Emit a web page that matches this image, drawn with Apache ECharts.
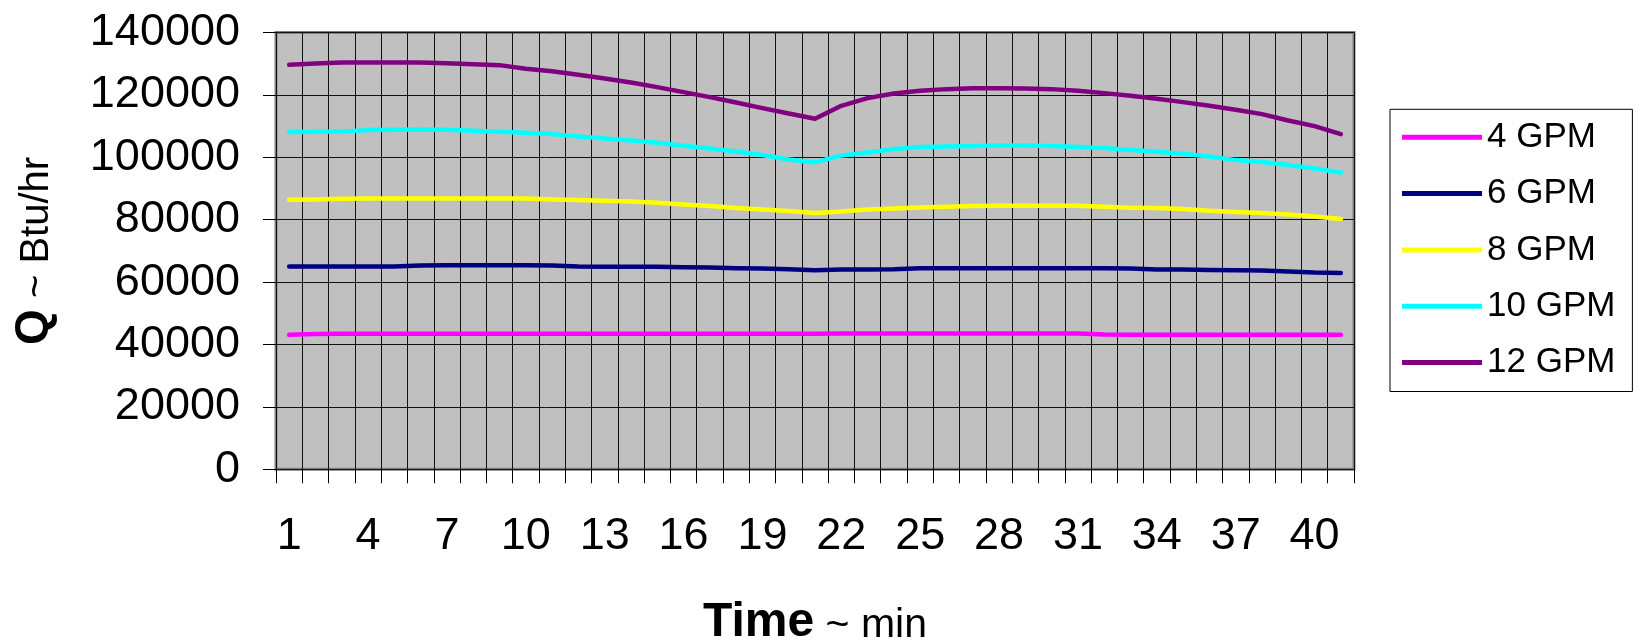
<!DOCTYPE html>
<html>
<head>
<meta charset="utf-8">
<script src="https://cdn.jsdelivr.net/npm/echarts@6/dist/echarts.min.js"></script>
<style>
html,body{margin:0;padding:0;background:#fff;}
#c{width:1637px;height:642px;}
</style>
</head>
<body>
<div id="c"></div>
<script>
const categories = ['1','2','3','4','5','6','7','8','9','10','11','12','13','14','15','16','17','18','19','20','21','22','23','24','25','26','27','28','29','30','31','32','33','34','35','36','37','38','39','40','41'];
const seriesNames = ['4 GPM','6 GPM','8 GPM','10 GPM','12 GPM'];
const gpm4 = [43100,43400,43450,43450,43450,43450,43450,43450,43450,43450,43450,43450,43450,43450,43450,43450,43450,43450,43450,43450,43450,43500,43500,43500,43500,43500,43500,43500,43500,43500,43500,43200,43100,43100,43100,43100,43100,43100,43100,43100,43100];
const gpm6 = [64990,64990,64990,64990,64990,65310,65420,65420,65420,65420,65310,64990,64880,64880,64880,64770,64660,64450,64340,64130,63810,64020,64020,64130,64450,64450,64450,64450,64450,64450,64450,64450,64340,64020,64020,63910,63810,63700,63380,63060,62950];
const gpm8 = [86400,86500,86720,86820,86820,86820,86820,86820,86820,86820,86500,86290,86070,85860,85430,84900,84370,83730,83300,82770,82130,82660,83300,83620,83940,84160,84370,84470,84470,84470,84470,84160,83840,83730,83410,82870,82450,82130,81700,81060,80200];
const gpm10 = [108070,108180,108290,108710,108820,108930,108820,108500,108180,107860,107430,106680,106040,105400,104660,103700,102840,101880,100710,99320,98360,100600,101560,102630,103270,103480,103590,103800,103800,103590,103270,102950,102310,101770,101130,100280,99100,98460,97500,96430,95150];
const gpm12 = [129640,130070,130390,130390,130390,130390,130180,129860,129540,128360,127610,126440,125260,123980,122490,120890,119280,117580,115760,114050,112340,116510,118970,120460,121310,121850,122170,122170,122060,121850,121310,120570,119710,118750,117680,116510,115230,113840,111810,109990,107430];
const seriesColors = ['#FF00FF','#000080','#FFFF00','#00FFFF','#800080'];

const FONT = "'Liberation Sans', Arial, sans-serif";
const chart = echarts.init(document.getElementById('c'), null, {renderer:'canvas'});
const dataSets = [gpm4, gpm6, gpm8, gpm10, gpm12];

chart.setOption({
  animation: false,
  backgroundColor: '#ffffff',
  textStyle: {fontFamily: FONT},
  grid: {
    left: 276, right: 283, top: 32.5, bottom: 172.7,
    containLabel: false,
    outerBoundsMode: 'none',
    show: true, backgroundColor: '#C0C0C0', borderColor: '#808080', borderWidth: 3
  },
  legend: {
    orient: 'vertical',
    left: 1390, top: 109.3,
    data: seriesNames,
    icon: 'rect',
    itemWidth: 80, itemHeight: 5,
    itemGap: 20.3,
    padding: [10, 17, 11, 12],
    borderColor: '#000', borderWidth: 1, backgroundColor: '#fff',
    textStyle: {fontFamily: FONT, fontSize: 35, color: '#000', lineHeight: 36}
  },
  xAxis: {
    type: 'category',
    data: categories,
    boundaryGap: true,
    axisLine: {show: false},
    axisTick: {show: true, interval: 0, length: 14, lineStyle: {color: '#000', width: 1}},
    axisLabel: {interval: 2, fontSize: 45, color: '#000', fontFamily: FONT, margin: 44.5, lineHeight: 45},
    splitLine: {show: true, interval: 0, lineStyle: {color: '#111', width: 1}},
    name: '{b|Time}{r| ~ min}',
    nameLocation: 'middle',
    nameGap: 129,
    nameTextStyle: {
      rich: {
        b: {fontSize: 48, fontWeight: 'bold', fontFamily: FONT, color: '#000', lineHeight: 48, verticalAlign: 'bottom'},
        r: {fontSize: 41, fontFamily: FONT, color: '#000', lineHeight: 48, verticalAlign: 'bottom'}
      }
    }
  },
  yAxis: {
    type: 'value',
    min: 0, max: 140000, interval: 20000,
    axisLine: {show: false},
    axisTick: {show: true, length: 13, lineStyle: {color: '#000', width: 1}},
    axisLabel: {fontSize: 45, color: '#000', fontFamily: FONT, margin: 36, formatter: v => String(v)},
    splitLine: {show: true, lineStyle: {color: '#111', width: 1}},
    name: '{b|Q}{r| ~ Btu/hr}',
    nameLocation: 'middle',
    nameRotate: 90,
    nameGap: 219,
    nameTextStyle: {
      rich: {
        b: {fontSize: 46, fontWeight: 'bold', fontFamily: FONT, color: '#000', lineHeight: 46, verticalAlign: 'bottom'},
        r: {fontSize: 40, fontFamily: FONT, color: '#000', lineHeight: 46, verticalAlign: 'bottom'}
      }
    }
  },
  series: seriesNames.map((n, i) => ({
    name: n,
    type: 'line',
    data: dataSets[i],
    symbol: 'none',
    color: seriesColors[i],
    lineStyle: {color: seriesColors[i], width: 4.5, cap: 'round', join: 'round'}
  }))
});
</script>
</body>
</html>
